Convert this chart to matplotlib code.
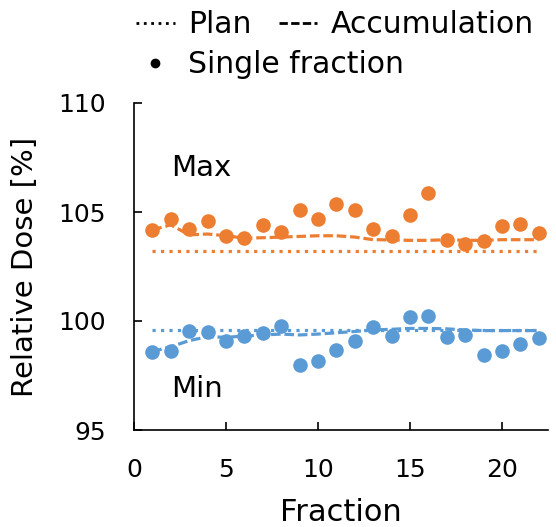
import matplotlib.pyplot as plt

plt.rcParams['font.family'] = ['DejaVu Sans']

fraction = list(range(1, 23))

max_single = [104.18, 104.68, 104.21, 104.6, 103.88, 103.8, 104.41, 104.06, 105.09, 104.67, 105.35,
              105.08, 104.21, 103.91, 104.88, 105.85, 103.73, 103.53, 103.68, 104.36, 104.44, 104.03]
max_accum = [104.18, 104.41, 103.95, 103.99, 103.91, 103.8, 103.82, 103.85, 103.88, 103.91, 103.91,
             103.85, 103.73, 103.72, 103.7, 103.7, 103.73, 103.7, 103.7, 103.73, 103.73, 103.73]
max_plan = 103.2

min_single = [98.6, 98.62, 99.53, 99.48, 99.1, 99.29, 99.45, 99.76, 97.97, 98.15, 98.68,
              99.1, 99.71, 99.3, 100.17, 100.21, 99.26, 99.38, 98.42, 98.62, 98.95, 99.23]
min_accum = [98.6, 98.82, 99.1, 99.28, 99.25, 99.31, 99.36, 99.4, 99.36, 99.4, 99.46,
             99.52, 99.59, 99.62, 99.66, 99.66, 99.64, 99.59, 99.56, 99.56, 99.56, 99.56]
min_plan = 99.6

orange = '#ED7D31'
blue = '#5B9BD5'

fig = plt.figure(figsize=(5.56, 5.27), dpi=100)
ax = fig.add_axes([134 / 556, 1 - 430 / 527, (548 - 134) / 556, (430 - 103) / 527])

for single, accum, plan, c in [(max_single, max_accum, max_plan, orange),
                               (min_single, min_accum, min_plan, blue)]:
    ax.plot(fraction, [plan] * len(fraction), ':', color=c, lw=2.3)
    ax.plot(fraction, accum, '--', color=c, lw=2.3, dashes=(3, 1.2))
    ax.plot(fraction, single, 'o', color=c, ms=10.5, mec='none')

ax.text(2.0, 107.0, 'Max', fontsize=21, va='center')
ax.text(2.0, 96.9, 'Min', fontsize=21, va='center')

ax.set_xlim(0, 22.5)
ax.set_ylim(95, 110)
ax.set_xticks([0, 5, 10, 15, 20])
ax.set_yticks([95, 100, 105, 110])
ax.tick_params(direction='in', labelsize=18, length=6, width=1.2)
ax.tick_params(axis='x', pad=20)
ax.tick_params(axis='y', pad=20)
ax.spines['top'].set_visible(False)
ax.spines['right'].set_visible(False)
ax.spines['left'].set_linewidth(1.2)
ax.spines['bottom'].set_linewidth(1.2)
ax.set_xlabel('Fraction', fontsize=22, labelpad=12)
ax.set_ylabel('Relative Dose [%]', fontsize=21, labelpad=14)

h_plan, = ax.plot([], [], ':', color='black', lw=2)
h_acc, = ax.plot([], [], '--', color='black', lw=2, dashes=(3, 1.2))
h_single, = ax.plot([], [], 'o', color='black', ms=6)
leg_kw = dict(frameon=False, fontsize=21.5, loc='upper left', handlelength=1.3,
              handletextpad=0.45, columnspacing=0.9, borderaxespad=0.0, borderpad=0.0)
leg1 = fig.legend([h_plan, h_acc], ['Plan', 'Accumulation'], ncol=2,
                  bbox_to_anchor=(136 / 556, 1 - 10 / 527), **leg_kw)
leg2 = fig.legend([h_single], ['Single fraction'],
                  bbox_to_anchor=(136 / 556, 1 - 50 / 527), **leg_kw)

fig.savefig('out.png', dpi=100)
